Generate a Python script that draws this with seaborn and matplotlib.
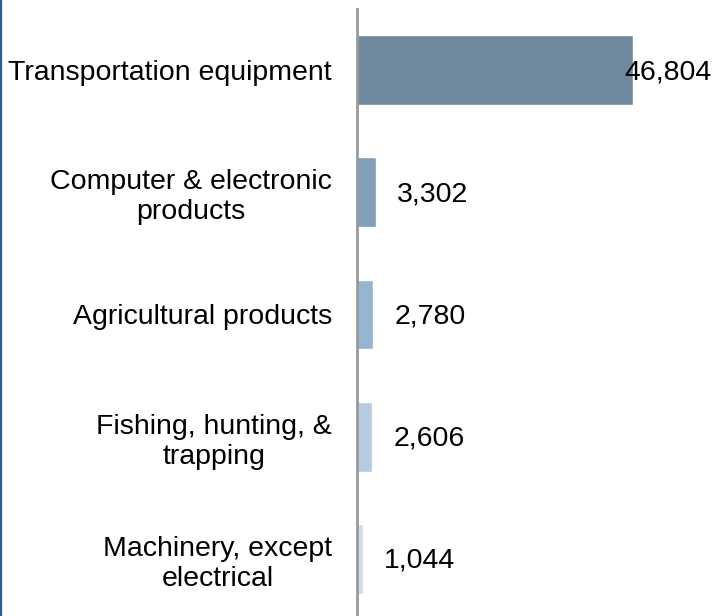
import matplotlib
matplotlib.use("Agg")
import matplotlib.pyplot as plt
import seaborn as sns
import pandas as pd
from matplotlib.lines import Line2D

categories = ["Transportation equipment", "Computer & electronic\nproducts",
              "Agricultural products", "Fishing, hunting, &\ntrapping",
              "Machinery, except\nelectrical"]
values = [46804, 3302, 2780, 2606, 1044]
value_labels = ["46,804", "3,302", "2,780", "2,606", "1,044"]
colors = ["#6E889E", "#819FB8", "#94B6D3", "#B4CBE0", "#D0DDEA"]

sns.set_theme(style="white")
plt.rcParams['font.family'] = ['Liberation Sans', 'DejaVu Sans']

df = pd.DataFrame({"category": categories, "value": values})

W, H = 712, 616
FS = 20.5
fig = plt.figure(figsize=(W / 100, H / 100), dpi=100)
ax = fig.add_axes([357 / W, -4 / H, (W - 357) / W, 611 / H])

sns.barplot(data=df, y="category", x="value", hue="category",
            palette=colors, orient="h", width=0.57, ax=ax, legend=False,
            saturation=1)

ax.set_xlim(0, 60200)
ax.set_ylim(4.5, -0.5)
ax.set_xlabel("")
ax.set_ylabel("")
ax.set_xticks([])
for s in ["top", "right", "bottom"]:
    ax.spines[s].set_visible(False)
ax.spines["left"].set_color("#999999")
ax.spines["left"].set_linewidth(2)
ax.tick_params(axis="y", length=0, pad=18, labelsize=FS)
for t in ax.get_yticklabels():
    t.set_multialignment("center")
    t.set_linespacing(1.2)
    t.set_color("black")

texts = []
for i, (v, lab) in enumerate(zip(values, value_labels)):
    t = ax.annotate(lab, xy=(v, i), xytext=(15, -1.5), textcoords="offset points",
                    ha="left", va="center", fontsize=FS, color="black",
                    annotation_clip=False)
    texts.append(t)

fig.canvas.draw()
r = fig.canvas.get_renderer()
for t in texts:
    bb = t.get_window_extent(r)
    if bb.x1 > W:
        shift = (bb.x1 - W) * 72 / 100
        t.xyann = (t.xyann[0] - shift, t.xyann[1])

fig.add_artist(Line2D([1 / W, 1 / W], [0, 1], transform=fig.transFigure,
                      color="#1F5F9F", linewidth=1.6))

fig.savefig("out.png", dpi=100)
